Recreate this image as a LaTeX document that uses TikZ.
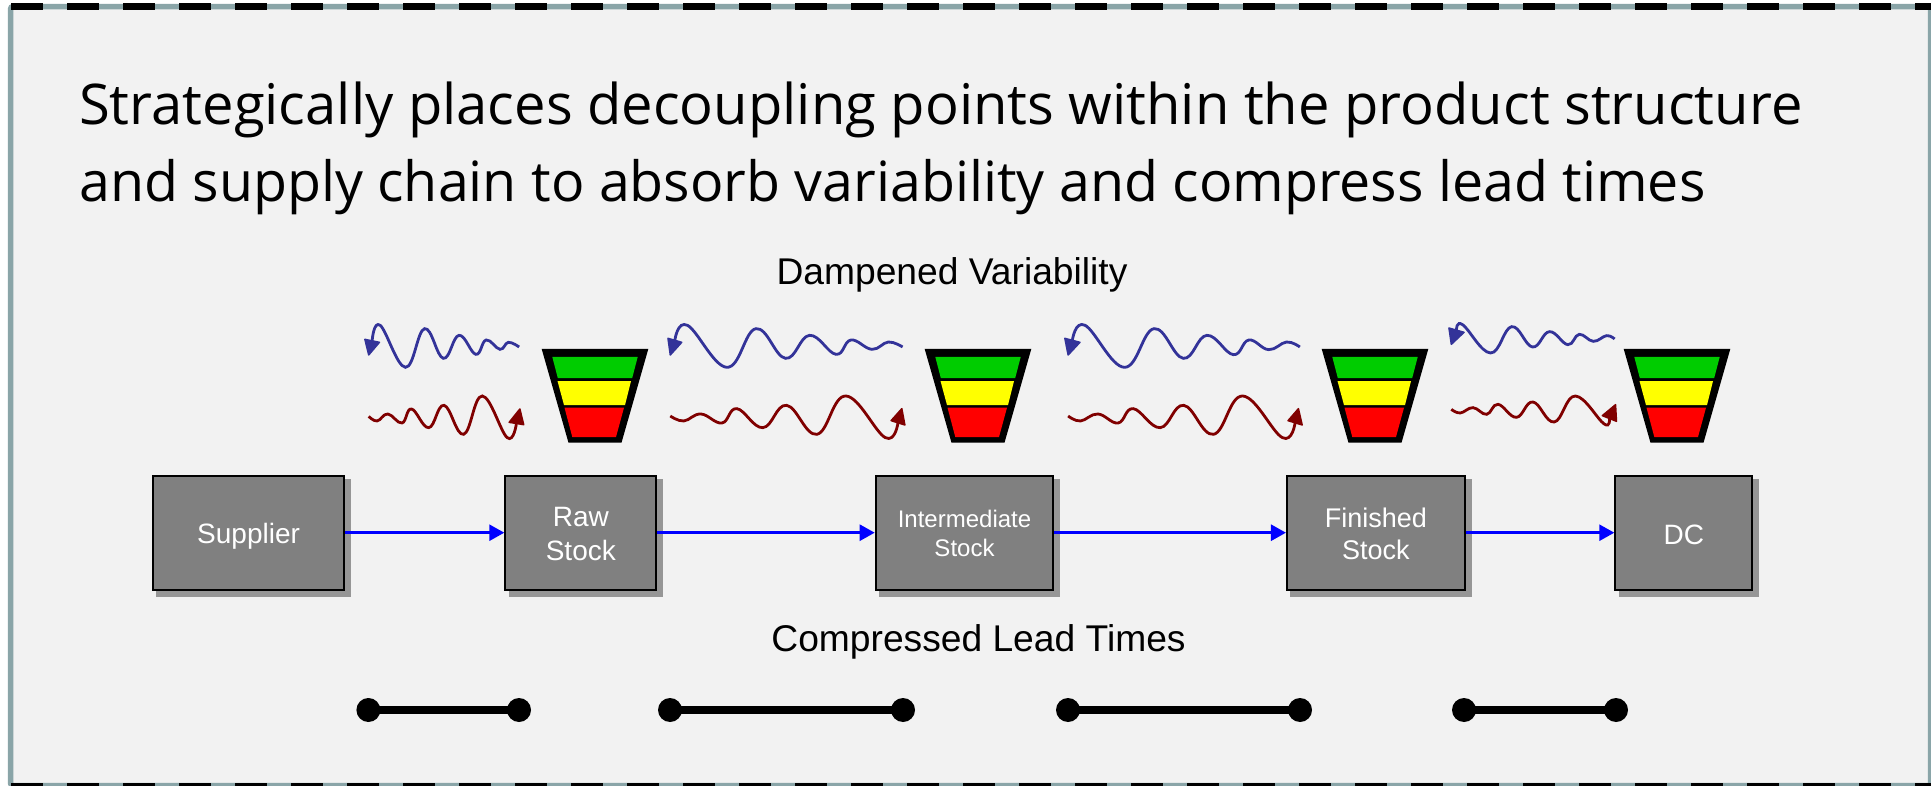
\documentclass[tikz,border=0pt]{standalone}
\usepackage{fontspec}
\setmainfont{Liberation Sans}
\newfontfamily\titlefont{Open Sans}
\usetikzlibrary{arrows.meta,shadows}
\definecolor{panel}{HTML}{F2F2F2}
\definecolor{frameline}{HTML}{8AA5A8}
\definecolor{boxgray}{HTML}{808080}
\definecolor{shadowgray}{HTML}{969696}
\definecolor{wavenavy}{HTML}{333399}
\definecolor{wavered}{HTML}{800000}
\definecolor{fgreen}{HTML}{00CC00}
\definecolor{fyellow}{HTML}{FFFF00}
\definecolor{fred}{HTML}{FF0000}
\newcommand{\fsz}[2]{\fontsize{#1}{#2}\selectfont}
\newcommand{\oneline}[2]{\smash{\makebox[0pt]{\raisebox{-#2pt}{#1}}}}
\newcommand{\twolines}[4]{\smash{\makebox[0pt]{\raisebox{-#3pt}{#1}}\makebox[0pt]{\raisebox{-#4pt}{#2}}}}
\tikzset{
  stockbox/.style={draw=black,line width=2pt,fill=boxgray,text=white,inner sep=0pt,
    minimum height=114pt,font={\fsz{28}{33}},
    general shadow={fill=shadowgray,draw=shadowgray,line width=3.5pt,shadow xshift=5.2pt,shadow yshift=-5.2pt}},
  flowarrow/.style={draw=blue,line width=2.6pt,-{Triangle[length=15pt,width=16pt,fill=blue]}},
  endpoint/.style={circle,fill=black,minimum size=24pt,inner sep=0pt},
  leadbar/.style={draw=black,line width=8.5pt,shorten <=-4pt,shorten >=-4pt},
  wave/.style={line width=2.8pt},
  downwave/.style={wave,draw=wavenavy},
  upwave/.style={wave,draw=wavered},
  downhead/.style={draw=wavenavy,fill=wavenavy,line width=1.5pt,line join=round},
  uphead/.style={draw=wavered,fill=wavered,line width=1.5pt,line join=round},
  zoomA/.style={shift={(340,300)},xscale=0.3827,yscale=0.3333},
  zoomB/.style={shift={(1020,300)},xscale=0.4719,yscale=0.3333},
  caption/.style={font={\fsz{37.2}{40}},inner sep=0pt,text=black},
}
\newcommand{\funnel}[1]{%
  \begin{scope}[shift={(#1,0)}]
    \fill[black] (-53.3,349) -- (53.3,349) -- (26.5,442.7) -- (-26.5,442.7) -- cycle;
    \fill[fgreen] (-42.7,357) -- (42.7,357) -- (37.2,378) -- (-37.2,378) -- cycle;
    \fill[fyellow] (-37.5,381) -- (36,381) -- (30,405) -- (-31,405) -- cycle;
    \fill[fred] (-30.5,407.7) -- (29,407.7) -- (21,437) -- (-22.7,437) -- cycle;
  \end{scope}}
\begin{document}
\begin{tikzpicture}[x=1pt,y=-1pt]
\useasboundingbox (0,0) rectangle (1931,786);
\fill[white] (0,0) rectangle (1931,786);
\fill[panel] (10.7,6.7) rectangle (1930.7,785.5);
\draw[frameline,line width=5.5pt,rounded corners=2pt] (10.7,6.7) rectangle (1930.7,785.5);
\draw[black,line width=7pt,dash pattern=on 32pt off 24pt] (11,6.7) -- (1931,6.7);
\draw[black,line width=7pt,dash pattern=on 32pt off 24pt] (11,786.2) -- (1931,786.2);

\node[anchor=base west,inner sep=0pt,font={\titlefont\fsz{56.1}{60}}] (t1) at (79,124.5) {Strategically places decoupling points within the product structure};
\node[anchor=base west,inner sep=0pt,font={\titlefont\fsz{55.5}{60}}] (t2) at (79,201.5) {and supply chain to absorb variability and compress lead times};
\node[caption] (damp) at (952,275) {Dampened Variability};
\node[caption] (comp) at (978.5,642) {Compressed Lead Times};

\funnel{595}\funnel{978}\funnel{1375}\funnel{1677}

\begin{scope}[zoomA]
\draw[downwave] plot[smooth,tension=.7] coordinates {(468,141)(440,127)(418,148)(382,120)(355,163)(311,106)(270,175)(221,86)(171,202)(105,76)(84,122)};
\filldraw[downhead] (75,165) -- (65,118) -- (103,127) -- cycle;
\draw[upwave] plot[smooth,tension=.7] coordinates {(75,349)(97,363)(125,342)(162,369)(187,327)(232,383)(272,316)(323,403)(372,288)(437,413)(461,370)};
\filldraw[uphead] (470,327) -- (442,367) -- (480,374) -- cycle;
\draw[downwave] plot[smooth,tension=.7] coordinates {(1470,141)(1433,126)(1390,148)(1335,120)(1296,163)(1227,106)(1164,175)(1087,86)(1011,202)(908,76)(875,121)};
\filldraw[downhead] (863,165) -- (857,115) -- (893,127) -- cycle;
\draw[upwave] plot[smooth,tension=.7] coordinates {(863,348)(898,363)(943,342)(998,369)(1037,326)(1105,383)(1167,316)(1246,403)(1322,288)(1425,413)(1458,368)};
\filldraw[uphead] (1468,326) -- (1440,362) -- (1476,375) -- cycle;
\end{scope}
\begin{scope}[zoomB]
\draw[downwave] plot[smooth,tension=.7] coordinates {(593,141)(565,126)(527,149)(485,120)(452,164)(396,106)(346,175)(284,86)(221,202)(138,76)(111,121)};
\filldraw[downhead] (102,165) -- (95,115) -- (127,127) -- cycle;
\draw[upwave] plot[smooth,tension=.7] coordinates {(102,348)(128,363)(165,342)(208,369)(240,326)(297,383)(347,316)(410,403)(472,288)(556,413)(583,368)};
\filldraw[uphead] (590,326) -- (568,362) -- (598,375) -- cycle;
\draw[downwave] plot[smooth,tension=.7] coordinates {(1260,117)(1243,107)(1215,124)(1185,103)(1161,134)(1122,95)(1086,141)(1042,80)(997,159)(938,74)(925,90)};
\filldraw[downhead] (914,133) -- (909,84) -- (941,97) -- cycle;
\draw[upwave] plot[smooth,tension=.7] coordinates {(914,328)(933,339)(960,323)(989,343)(1013,313)(1052,352)(1087,306)(1132,366)(1177,288)(1238,372)(1249,355)};
\filldraw[uphead] (1262,314) -- (1234,347) -- (1264,364) -- cycle;
\end{scope}

\node[stockbox,minimum width=191.7pt] (supplier) at (248.6,532.7) {\oneline{Supplier}{10.6}};
\node[stockbox,minimum width=151pt] (raw) at (580.8,532.7) {\twolines{Raw}{Stock}{-6}{27.3}};
\node[stockbox,minimum width=177.6pt,font={\fsz{24}{33}}] (inter) at (964.5,532.7) {\twolines{Intermediate}{Stock}{-5.4}{23.3}};
\node[stockbox,minimum width=177.7pt,font={\fsz{27}{33}}] (finished) at (1375.8,532.7) {\twolines{Finished}{Stock}{-5.4}{26.6}};
\node[stockbox,minimum width=137pt] (dc) at (1683.8,532.7) {\oneline{DC}{11.3}};

\draw[flowarrow] (supplier) -- (raw);
\draw[flowarrow] (raw) -- (inter);
\draw[flowarrow] (inter) -- (finished);
\draw[flowarrow] (finished) -- (dc);

\node[endpoint] (a1) at (368.4,710) {};
\node[endpoint] (a2) at (519,710) {};
\node[endpoint] (b1) at (670,710) {};
\node[endpoint] (b2) at (903,710) {};
\node[endpoint] (c1) at (1068,710) {};
\node[endpoint] (c2) at (1300,710) {};
\node[endpoint] (d1) at (1464,710) {};
\node[endpoint] (d2) at (1616,710) {};
\draw[leadbar] (a1) -- (a2);
\draw[leadbar] (b1) -- (b2);
\draw[leadbar] (c1) -- (c2);
\draw[leadbar] (d1) -- (d2);
\end{tikzpicture}
\end{document}
